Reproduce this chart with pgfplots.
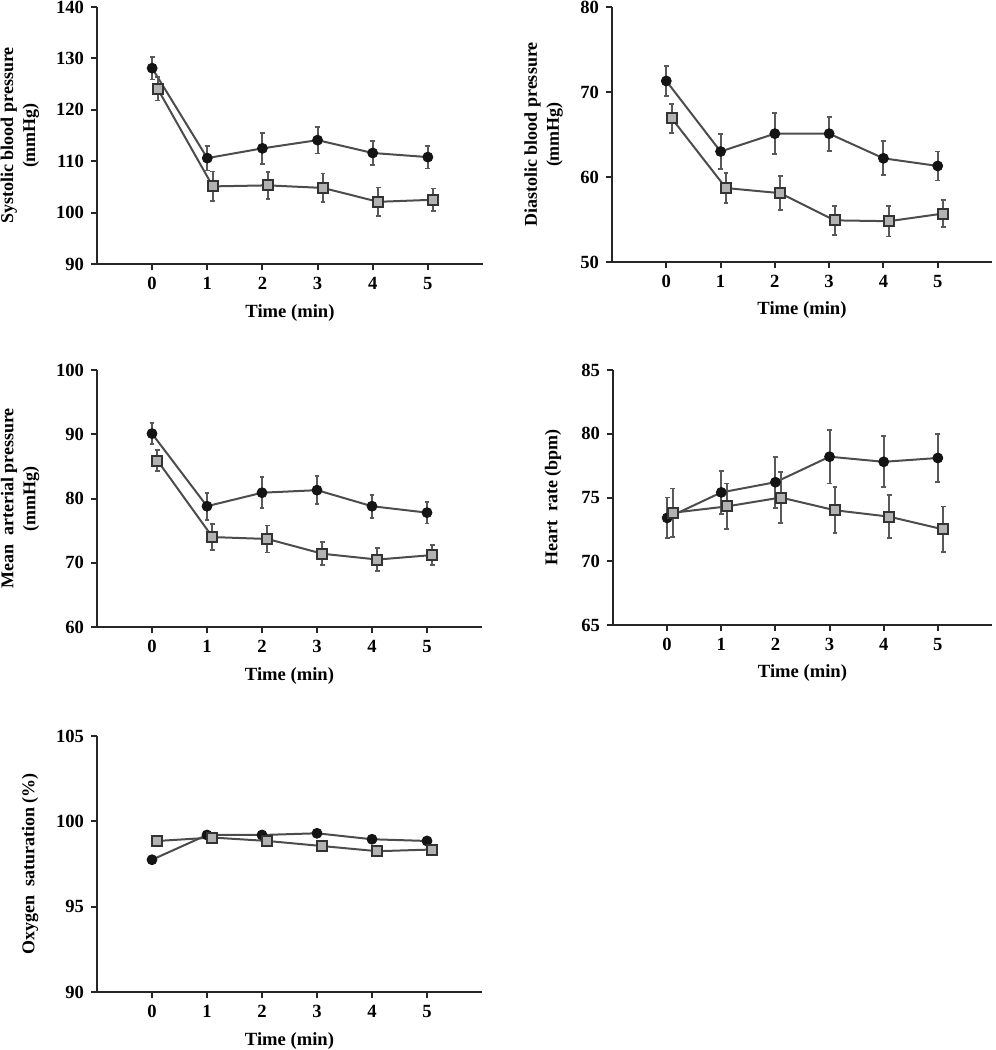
\documentclass[border=0pt]{standalone}
\usepackage{fontspec}
\setmainfont{Liberation Serif}
\usepackage{pgfplots}
\pgfplotsset{compat=1.18}

\pgfplotsset{
  panel/.style={
    scale only axis,
    axis x line=bottom, axis y line=left,
    axis line style={-, line width=1.2pt, black!85},
    xmin=-1, xmax=6,
    xtick={0,1,2,3,4,5},
    tick align=outside, major tick length=3pt,
    tick style={line width=1pt, black!85},
    every tick label/.append style={font=\fontsize{9.3}{10}\selectfont\bfseries},
    /pgf/number format/assume math mode=true,
    xlabel={Time (min)},
    every axis x label/.style={at={(axis description cs:0.5,-0.19)}, anchor=center, font=\fontsize{9.3}{11}\selectfont\bfseries},
    clip=false,
  },
  ylab/.style={every axis y label/.style={at={(axis description cs:#1,0.5)}, rotate=90, anchor=center, align=center, font=\fontsize{9}{11}\selectfont\bfseries}},
  circ/.style={line width=1pt, draw=black!70, mark=*, mark size=2.5pt,
    mark options={fill=black!92, draw=black!92, line width=0.4pt},
    error bars/.cd, y dir=both, y explicit,
    error bar style={line width=1pt, black!65},
    error mark options={rotate=90, mark size=1.2pt, line width=0.9pt, black!65}},
  sq/.style={line width=1pt, draw=black!70, mark=square*, mark size=2.5pt,
    mark options={fill=black!30, draw=black!80, line width=1pt},
    error bars/.cd, y dir=both, y explicit,
    error bar style={line width=1pt, black!65},
    error mark options={rotate=90, mark size=1.2pt, line width=0.9pt, black!65}},
}

\begin{document}
\begin{tikzpicture}
\useasboundingbox (0pt,0pt) rectangle (498pt,-525pt);

% Systolic
\begin{axis}[panel, ylab=-0.2, at={(48.5pt,-132pt)}, anchor=south west,
  width=193pt, height=128.5pt, ymin=90, ymax=140, ytick={90,100,...,140},
  ylabel={Systolic blood pressure\\(mmHg)}]
\addplot[circ] table[x=x, y=y, y error=e] {
x y e
0 128.1 2.2
1 110.6 2.4
2 112.5 3.0
3 114.1 2.6
4 111.6 2.3
5 110.8 2.2
};
\addplot[sq] table[x=x, y=y, y error=e] {
x y e
0.1 124.1 2.3
1.1 105.1 2.9
2.1 105.3 2.6
3.1 104.8 2.8
4.1 102.1 2.8
5.1 102.5 2.2
};
\end{axis}

% Diastolic
\begin{axis}[panel, ylab=-0.18, at={(306pt,-131pt)}, anchor=south west,
  width=190pt, height=127.5pt, ymin=50, ymax=80, ytick={50,60,70,80},
  ylabel={Diastolic blood pressure\\(mmHg)}]
\addplot[circ] table[x=x, y=y, y error=e] {
x y e
0 71.3 1.8
1 63.0 2.1
2 65.1 2.4
3 65.1 2.0
4 62.2 2.0
5 61.3 1.7
};
\addplot[sq] table[x=x, y=y, y error=e] {
x y e
0.1 66.9 1.7
1.1 58.7 1.8
2.1 58.1 2.0
3.1 54.9 1.7
4.1 54.8 1.8
5.1 55.7 1.6
};
\end{axis}

% Mean arterial
\begin{axis}[panel, ylab=-0.2, at={(48.5pt,-313.5pt)}, anchor=south west,
  width=192.5pt, height=128.5pt, ymin=60, ymax=100, ytick={60,70,...,100},
  ylabel={Mean\ \ arterial pressure\\(mmHg)}]
\addplot[circ] table[x=x, y=y, y error=e] {
x y e
0 90.1 1.6
1 78.8 2.1
2 80.9 2.4
3 81.3 2.2
4 78.8 1.8
5 77.8 1.7
};
\addplot[sq] table[x=x, y=y, y error=e] {
x y e
0.1 85.9 1.6
1.1 74.0 2.0
2.1 73.7 2.1
3.1 71.4 1.8
4.1 70.5 1.8
5.1 71.2 1.6
};
\end{axis}

% Heart rate
\begin{axis}[panel, ylab=-0.158, at={(306.5pt,-312.5pt)}, anchor=south west,
  width=189.5pt, height=127.5pt, ymin=65, ymax=85, ytick={65,70,...,85},
  ylabel={Heart\ \ rate (bpm)}]
\addplot[circ] table[x=x, y=y, y error=e] {
x y e
0 73.4 1.6
1 75.4 1.7
2 76.2 2.0
3 78.2 2.1
4 77.8 2.0
5 78.1 1.9
};
\addplot[sq] table[x=x, y=y, y error=e] {
x y e
0.1 73.8 1.9
1.1 74.3 1.8
2.1 75.0 2.0
3.1 74.0 1.8
4.1 73.5 1.7
5.1 72.5 1.8
};
\end{axis}

% Oxygen saturation
\begin{axis}[panel, ylab=-0.174, at={(48.5pt,-496pt)}, anchor=south west,
  width=192.5pt, height=128pt, ymin=90, ymax=105, ytick={90,95,100,105},
  ylabel={Oxygen\ \ saturation (\%)}]
\addplot[circ] table[x=x, y=y, y error=e] {
x y e
0 97.75 0.15
1 99.2 0.15
2 99.2 0.15
3 99.3 0.15
4 98.95 0.15
5 98.85 0.15
};
\addplot[sq] table[x=x, y=y, y error=e] {
x y e
0.1 98.85 0.15
1.1 99.05 0.15
2.1 98.85 0.15
3.1 98.55 0.15
4.1 98.25 0.15
5.1 98.35 0.15
};
\end{axis}
\end{tikzpicture}
\end{document}
